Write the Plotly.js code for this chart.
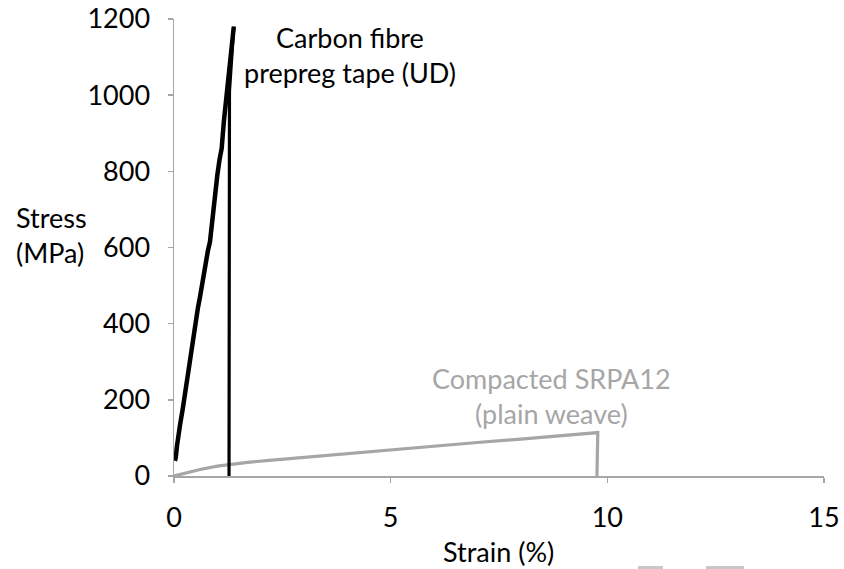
<!DOCTYPE html>
<html>
<head>
<meta charset="utf-8">
<script src="https://cdn.plot.ly/plotly-3.0.1.min.js"></script>
<style>html,body{margin:0;padding:0;background:#fff;}#chart{width:844px;height:569px;}</style>
</head>
<body>
<div id="chart"></div>
<script>
// Carbon fibre prepreg tape (UD): loading curve
const cfStrain = [0.02, 0.04, 0.07, 0.10, 0.14, 0.20, 0.25, 0.30, 0.35, 0.40, 0.44, 0.50, 0.55, 0.60, 0.67, 0.72, 0.78, 0.83, 0.87, 0.90, 0.95, 1.00, 1.05, 1.10, 1.15, 1.20, 1.25, 1.30, 1.35, 1.38];
const cfStress = [40, 48, 80, 110, 135, 175, 215, 245, 285, 320, 350, 400, 440, 470, 520, 560, 590, 615, 660, 700, 735, 790, 830, 860, 930, 985, 1040, 1110, 1160, 1180];
// Carbon fibre: failure drop
const cfDropStrain = [1.38, 1.28, 1.27];
const cfDropStress = [1180, 1010, 0];
// Compacted SRPA12 (plain weave)
const srStrain = [0, 0.3, 0.6, 1.0, 1.3, 1.7, 2.2, 3, 4, 5, 6, 7, 8, 9, 9.78, 9.76];
const srStress = [0, 9, 17, 26, 31, 36, 41, 49, 59, 70, 79, 88, 97, 106, 114, 0];

const xTicks = [0, 5, 10, 15];
const yTicks = [0, 200, 400, 600, 800, 1000, 1200];
const labels = {
  cf: "Carbon fibre<br>prepreg tape (UD)",
  sr: "Compacted SRPA12<br>(plain weave)",
  x: "Strain (%)",
  y: "Stress<br>(MPa)"
};

const FONT = "Lato, 'Liberation Sans', sans-serif";
const FS = 27;
const GRAY = "#a6a6a6";

const traces = [
  {x: srStrain, y: srStress, mode: "lines", line: {color: GRAY, width: 3.2}, hoverinfo: "skip"},
  {x: cfDropStrain, y: cfDropStress, mode: "lines", line: {color: "#000000", width: 3.2}, hoverinfo: "skip"},
  {x: cfStrain, y: cfStress, mode: "lines", line: {color: "#000000", width: 4.5}, hoverinfo: "skip"}
];

const layout = {
  width: 844, height: 569,
  margin: {l: 174, r: 20, t: 19, b: 93},
  paper_bgcolor: "#ffffff", plot_bgcolor: "#ffffff",
  showlegend: false,
  font: {family: FONT, size: FS, color: "#000000"},
  xaxis: {
    range: [0, 15], tickvals: xTicks, ticktext: xTicks.map(String),
    showgrid: false, zeroline: false, showline: true, linecolor: GRAY, linewidth: 1.5,
    ticks: "outside", ticklen: 5, tickcolor: GRAY, tickwidth: 1.5,
    ticklabelstandoff: 12, tickfont: {family: FONT, size: FS, color: "#000"}
  },
  yaxis: {
    range: [0, 1200], tickvals: yTicks, ticktext: yTicks.map(String),
    showgrid: false, zeroline: false, showline: true, linecolor: GRAY, linewidth: 1.5,
    ticks: "outside", ticklen: 5, tickcolor: GRAY, tickwidth: 1.5,
    ticklabelstandoff: 12, tickfont: {family: FONT, size: FS, color: "#000"}
  },
  annotations: [
    {text: labels.cf, x: 4.06, y: 1105, xref: "x", yref: "y", showarrow: false, align: "center",
     font: {family: FONT, size: FS, color: "#000"}},
    {text: labels.sr, x: 8.72, y: 210, xref: "x", yref: "y", showarrow: false, align: "center",
     font: {family: FONT, size: FS, color: GRAY}},
    {text: labels.x, x: 0.499, y: -0.166, xref: "paper", yref: "paper", showarrow: false,
     xanchor: "center", yanchor: "middle", font: {family: FONT, size: FS, color: "#000"}},
    {text: labels.y, x: -0.246, y: 0.527, xref: "paper", yref: "paper", showarrow: false,
     xanchor: "left", yanchor: "middle", align: "left", font: {family: FONT, size: FS, color: "#000"}}
  ],
  shapes: [
    {type: "rect", xref: "paper", yref: "paper", x0: (638-174)/650, x1: (663-174)/650, y0: (476-569)/457, y1: (476-566)/457, fillcolor: "#c8c8c8", line: {width: 0}},
    {type: "rect", xref: "paper", yref: "paper", x0: (706-174)/650, x1: (744-174)/650, y0: (476-569)/457, y1: (476-566)/457, fillcolor: "#c8c8c8", line: {width: 0}}
  ]
};

Plotly.newPlot("chart", traces, layout, {staticPlot: true, displayModeBar: false});
</script>
</body>
</html>
